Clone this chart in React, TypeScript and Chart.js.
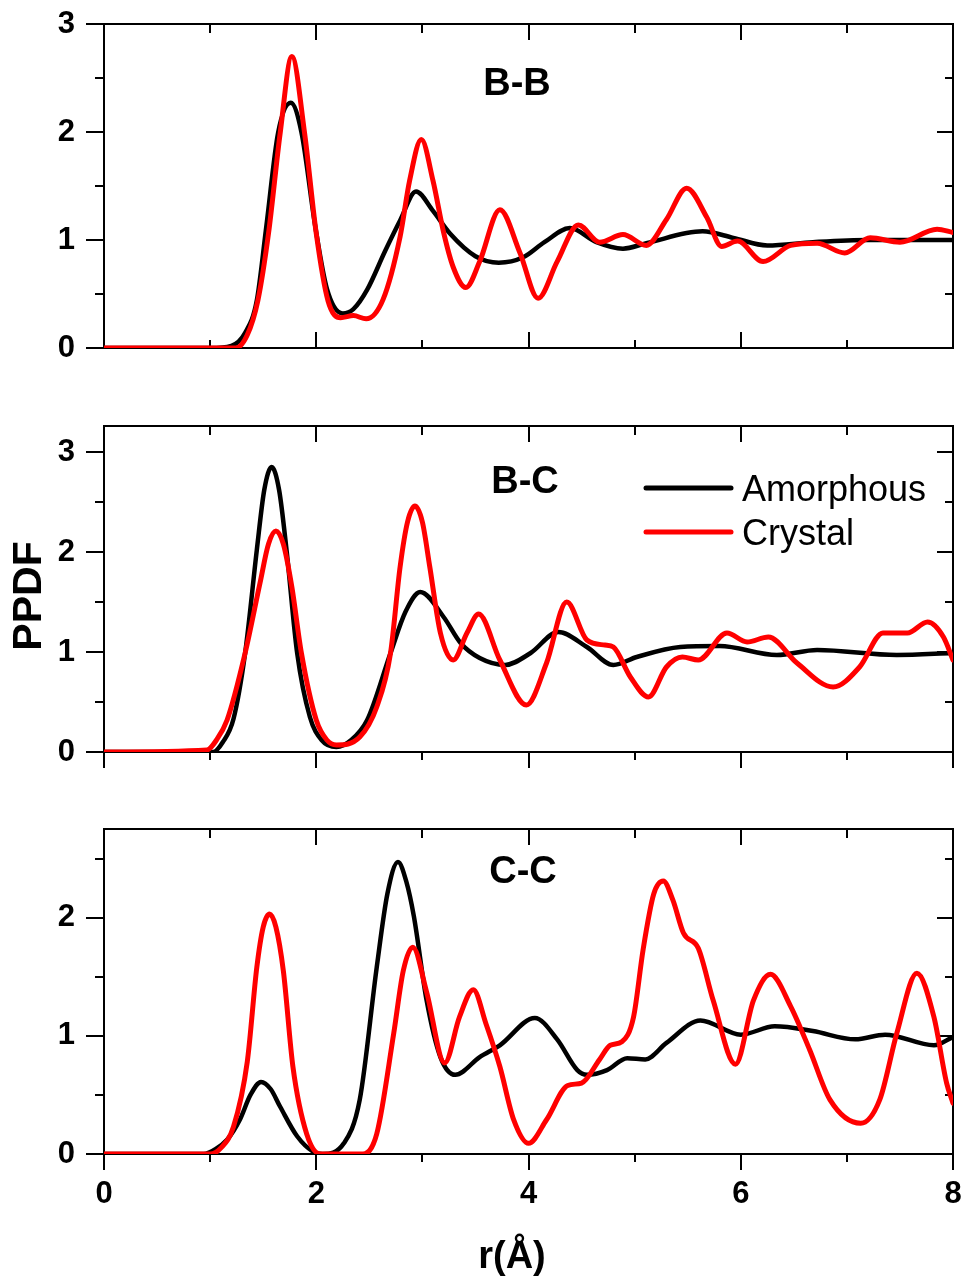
import React, { useEffect, useRef } from "react";
import { Chart, registerables } from "chart.js";

Chart.register(...registerables);

const FONT = "'Liberation Sans', Arial, Helvetica, sans-serif";

// ---------- shared axis ----------
const X_MIN = 0;
const X_MAX = 8;
const X_TICKS = [0, 2, 4, 6, 8];
const X_TITLE = "r(Å)";
const Y_TITLE = "PPDF";
const SERIES_NAMES = ["Amorphous", "Crystal"];

// ---------- B-B ----------
const BB_Y_MAX = 3;
const BB_Y_TICKS = [0, 1, 2, 3];
const BB_AM_R = [0, 1.0, 1.2, 1.33, 1.44, 1.53, 1.64, 1.76, 1.86, 1.99, 2.1, 2.25, 2.35, 2.48, 2.65, 2.79, 2.94, 3.1, 3.26, 3.5, 3.72, 3.95, 4.15, 4.39, 4.64, 4.89, 5.11, 5.64, 5.93, 6.25, 6.68, 7.2, 8.0];
const BB_AM_G = [0, 0, 0.02, 0.14, 0.44, 1.13, 1.99, 2.27, 2.0, 1.13, 0.55, 0.32, 0.36, 0.54, 0.9, 1.18, 1.45, 1.27, 1.06, 0.85, 0.79, 0.84, 0.98, 1.11, 0.98, 0.92, 0.97, 1.08, 1.02, 0.95, 0.98, 1.0, 1.0];
const BB_CR_R = [0, 1.24, 1.35, 1.45, 1.55, 1.66, 1.77, 1.89, 2.0, 2.11, 2.23, 2.35, 2.47, 2.63, 2.79, 2.88, 2.99, 3.1, 3.2, 3.29, 3.41, 3.54, 3.73, 3.92, 4.09, 4.27, 4.47, 4.67, 4.89, 5.11, 5.3, 5.49, 5.68, 5.82, 5.97, 6.21, 6.47, 6.72, 6.98, 7.22, 7.5, 7.85, 8.0];
const BB_CR_G = [0, 0, 0.12, 0.44, 1.06, 1.99, 2.7, 1.99, 1.06, 0.44, 0.28, 0.3, 0.27, 0.45, 1.03, 1.55, 1.93, 1.55, 1.07, 0.75, 0.56, 0.8, 1.28, 0.88, 0.46, 0.8, 1.14, 0.98, 1.05, 0.95, 1.19, 1.48, 1.21, 0.94, 0.99, 0.8, 0.95, 0.97, 0.88, 1.02, 0.98, 1.1, 1.07];

// ---------- B-C ----------
const BC_Y_MAX = 3.26;
const BC_Y_TICKS = [0, 1, 2, 3];
const BC_AM_R = [0, 1.03, 1.12, 1.22, 1.33, 1.44, 1.51, 1.58, 1.65, 1.72, 1.82, 1.94, 2.05, 2.19, 2.33, 2.48, 2.7, 2.84, 2.98, 3.2, 3.36, 3.54, 3.78, 4.02, 4.28, 4.55, 4.8, 5.02, 5.43, 5.8, 6.34, 6.72, 7.47, 8.0];
const BC_AM_G = [0, 0, 0.1, 0.33, 0.99, 2.02, 2.62, 2.85, 2.62, 2.02, 0.99, 0.35, 0.12, 0.05, 0.12, 0.32, 0.99, 1.4, 1.6, 1.35, 1.09, 0.94, 0.87, 0.99, 1.2, 1.05, 0.87, 0.95, 1.05, 1.06, 0.97, 1.02, 0.97, 0.99];
const BC_CR_R = [0, 0.97, 1.06, 1.16, 1.33, 1.47, 1.55, 1.62, 1.69, 1.77, 1.86, 2.0, 2.1, 2.19, 2.41, 2.57, 2.7, 2.79, 2.86, 2.93, 3.0, 3.07, 3.17, 3.29, 3.42, 3.53, 3.73, 3.98, 4.17, 4.36, 4.55, 4.72, 4.8, 4.96, 5.13, 5.3, 5.45, 5.6, 5.87, 6.06, 6.26, 6.53, 6.87, 7.12, 7.34, 7.57, 7.76, 7.91, 8.0];
const BC_CR_G = [0, 0.02, 0.12, 0.32, 0.99, 1.69, 2.08, 2.21, 2.08, 1.65, 0.99, 0.32, 0.12, 0.07, 0.15, 0.45, 0.99, 1.85, 2.3, 2.46, 2.3, 1.85, 1.19, 0.92, 1.19, 1.38, 0.92, 0.47, 0.89, 1.5, 1.12, 1.07, 1.05, 0.75, 0.55, 0.85, 0.95, 0.92, 1.19, 1.1, 1.15, 0.89, 0.65, 0.85, 1.19, 1.19, 1.3, 1.15, 0.92];

// ---------- C-C ----------
const CC_Y_MAX = 2.75;
const CC_Y_TICKS = [0, 1, 2];
const CC_AM_R = [0, 0.94, 1.05, 1.16, 1.28, 1.38, 1.48, 1.57, 1.66, 1.82, 1.97, 2.06, 2.26, 2.41, 2.57, 2.67, 2.77, 2.85, 2.92, 3.04, 3.17, 3.31, 3.54, 3.73, 4.06, 4.27, 4.46, 4.55, 4.74, 4.93, 5.1, 5.3, 5.62, 6.0, 6.32, 6.68, 7.08, 7.36, 7.82, 8.0];
const CC_AM_G = [0, 0, 0.04, 0.12, 0.29, 0.5, 0.61, 0.55, 0.4, 0.15, 0.02, 0.0, 0.09, 0.46, 1.58, 2.2, 2.47, 2.3, 2.01, 1.3, 0.82, 0.67, 0.82, 0.92, 1.15, 0.97, 0.71, 0.67, 0.71, 0.81, 0.8, 0.94, 1.13, 1.01, 1.08, 1.04, 0.97, 1.01, 0.92, 0.99];
const CC_CR_R = [0, 1.0, 1.1, 1.22, 1.35, 1.44, 1.5, 1.56, 1.62, 1.69, 1.78, 1.91, 2.04, 2.44, 2.57, 2.73, 2.82, 2.91, 3.04, 3.21, 3.35, 3.48, 3.6, 3.73, 3.86, 4.0, 4.17, 4.37, 4.5, 4.67, 4.77, 4.88, 4.99, 5.08, 5.18, 5.27, 5.36, 5.46, 5.6, 5.74, 5.95, 6.12, 6.28, 6.47, 6.65, 6.84, 7.13, 7.31, 7.47, 7.66, 7.82, 7.94, 8.0];
const CC_CR_G = [0, 0, 0.05, 0.23, 0.78, 1.58, 1.92, 2.03, 1.92, 1.55, 0.74, 0.17, 0.0, 0.0, 0.17, 1.02, 1.55, 1.75, 1.37, 0.77, 1.16, 1.39, 1.1, 0.74, 0.29, 0.09, 0.29, 0.58, 0.6, 0.8, 0.92, 0.95, 1.16, 1.73, 2.2, 2.31, 2.15, 1.87, 1.74, 1.3, 0.76, 1.3, 1.52, 1.25, 0.88, 0.46, 0.26, 0.46, 1.02, 1.53, 1.16, 0.6, 0.43];

type Panel = {
  name: string;
  yMax: number;
  yTicks: number[];
  amR: number[];
  amG: number[];
  crR: number[];
  crG: number[];
  top: number;
  height: number;
  padTop: number;
  padBottom: number;
  showX: boolean;
  bottomIn: boolean;
  nameX: number;
  nameY: number;
  legend: boolean;
  yTitle: boolean;
  xTitle: boolean;
};

const PANELS: Panel[] = [
  { name: "B-B", yMax: BB_Y_MAX, yTicks: BB_Y_TICKS, amR: BB_AM_R, amG: BB_AM_G, crR: BB_CR_R, crG: BB_CR_G,
    top: 0, height: 370, padTop: 24, padBottom: 22, showX: false, bottomIn: true, nameX: 517, nameY: 95, legend: false, yTitle: false, xTitle: false },
  { name: "B-C", yMax: BC_Y_MAX, yTicks: BC_Y_TICKS, amR: BC_AM_R, amG: BC_AM_G, crR: BC_CR_R, crG: BC_CR_G,
    top: 380, height: 400, padTop: 46, padBottom: 28, showX: false, bottomIn: false, nameX: 525, nameY: 113, legend: true, yTitle: true, xTitle: false },
  { name: "C-C", yMax: CC_Y_MAX, yTicks: CC_Y_TICKS, amR: CC_AM_R, amG: CC_AM_G, crR: CC_CR_R, crG: CC_CR_G,
    top: 790, height: 492, padTop: 39, padBottom: 0, showX: true, bottomIn: false, nameX: 523, nameY: 93, legend: false, yTitle: false, xTitle: true },
];

const zip = (r: number[], g: number[]) => r.map((x, i) => ({ x, y: g[i] }));

function framePlugin(p: Panel) {
  return {
    id: "frameTicks",
    beforeDatasetsDraw(chart: any) {
      const { ctx, chartArea: a, scales } = chart;
      const xs = scales.x;
      const ys = scales.y;
      ctx.save();
      ctx.strokeStyle = "#000";
      ctx.lineWidth = 2;
      ctx.strokeRect(a.left, a.top, a.right - a.left, a.bottom - a.top);
      ctx.beginPath();
      for (let k = 0; k * 0.5 <= p.yMax + 1e-9; k++) {
        const v = k * 0.5;
        const major = k % 2 === 0;
        const py = Math.round(ys.getPixelForValue(v));
        const L = major ? 18 : 9;
        const R = major ? 16 : 8;
        ctx.moveTo(a.left - L, py);
        ctx.lineTo(a.left, py);
        ctx.moveTo(a.right - R, py);
        ctx.lineTo(a.right, py);
      }
      for (let v = X_MIN; v <= X_MAX; v++) {
        const major = v % 2 === 0;
        const px = Math.round(xs.getPixelForValue(v));
        const T = major ? 16 : 9;
        const B = major ? 16 : 8;
        ctx.moveTo(px, a.top);
        ctx.lineTo(px, a.top + T);
        ctx.moveTo(px, a.bottom);
        ctx.lineTo(px, p.bottomIn ? a.bottom - B : a.bottom + B);
      }
      ctx.stroke();
      ctx.restore();
    },
    afterDraw(chart: any) {
      const { ctx } = chart;
      ctx.save();
      ctx.fillStyle = "#000";
      ctx.textAlign = "center";
      ctx.textBaseline = "alphabetic";
      ctx.font = `bold 38px ${FONT}`;
      ctx.fillText(p.name, p.nameX, p.nameY);
      if (p.legend) {
        const ds = chart.data.datasets;
        SERIES_NAMES.forEach((nm, i) => {
          const d = ds.find((q: any) => q.label === nm);
          const y = 108 + i * 44;
          ctx.strokeStyle = d.borderColor;
          ctx.lineWidth = 5;
          ctx.lineCap = "round";
          ctx.beginPath();
          ctx.moveTo(646, y);
          ctx.lineTo(731, y);
          ctx.stroke();
          ctx.fillStyle = "#000";
          ctx.textAlign = "left";
          ctx.font = `36px ${FONT}`;
          ctx.fillText(nm, 742, y + 12.5);
        });
      }
      if (p.yTitle) {
        ctx.save();
        ctx.translate(30, 216);
        ctx.rotate(-Math.PI / 2);
        ctx.textAlign = "center";
        ctx.textBaseline = "middle";
        ctx.font = `bold 41px ${FONT}`;
        ctx.fillStyle = "#000";
        ctx.fillText(Y_TITLE, 0, 0);
        ctx.restore();
      }
      if (p.xTitle) {
        ctx.textAlign = "center";
        ctx.textBaseline = "alphabetic";
        ctx.font = `bold 38px ${FONT}`;
        ctx.fillStyle = "#000";
        ctx.fillText(X_TITLE, 512, 478);
      }
      ctx.restore();
    },
  };
}

function buildConfig(p: Panel): any {
  const tickFont = { family: FONT, size: 31, weight: "bold" as const };
  const common = {
    pointRadius: 0,
    pointHoverRadius: 0,
    fill: false,
    cubicInterpolationMode: "monotone" as const,
    borderJoinStyle: "round" as const,
    borderCapStyle: "round" as const,
  };
  return {
    type: "line",
    data: {
      datasets: [
        { ...common, label: SERIES_NAMES[1], data: zip(p.crR, p.crG), borderColor: "#ff0000", borderWidth: 5, order: 0 },
        { ...common, label: SERIES_NAMES[0], data: zip(p.amR, p.amG), borderColor: "#000000", borderWidth: 4.5, order: 1 },
      ],
    },
    options: {
      responsive: false,
      maintainAspectRatio: false,
      animation: false,
      devicePixelRatio: 1,
      events: [],
      layout: { padding: { left: 0, right: 11, top: p.padTop, bottom: p.padBottom } },
      plugins: { legend: { display: false }, tooltip: { enabled: false }, title: { display: false } },
      scales: {
        x: {
          type: "linear",
          min: X_MIN,
          max: X_MAX,
          display: p.showX,
          position: "bottom",
          grid: { display: false, drawTicks: true, tickLength: 22 },
          border: { display: false },
          ticks: { font: tickFont, color: "#000", padding: 0, maxRotation: 0, autoSkip: false },
          afterBuildTicks: (s: any) => { s.ticks = X_TICKS.map((v) => ({ value: v })); },
          afterFit: (s: any) => { if (p.showX) s.height = 128; },
        },
        y: {
          type: "linear",
          min: 0,
          max: p.yMax,
          position: "left",
          grid: { display: false, drawTicks: true, tickLength: 29 },
          border: { display: false },
          ticks: { font: tickFont, color: "#000", padding: 0, autoSkip: false },
          afterBuildTicks: (s: any) => { s.ticks = p.yTicks.map((v) => ({ value: v })); },
          afterFit: (s: any) => { s.width = 104; },
        },
      },
    },
    plugins: [framePlugin(p)],
  };
}

export default function App() {
  const refs = useRef<(HTMLCanvasElement | null)[]>([]);
  useEffect(() => {
    const charts = PANELS.map((p, i) => new Chart(refs.current[i] as HTMLCanvasElement, buildConfig(p)));
    return () => charts.forEach((c) => c.destroy());
  }, []);
  return (
    <div style={{ position: "absolute", left: 0, top: 0, width: 964, height: 1282, background: "#fff" }}>
      {PANELS.map((p, i) => (
        <canvas
          key={p.name}
          ref={(el) => { refs.current[i] = el; }}
          width={964}
          height={p.height}
          style={{ position: "absolute", left: 0, top: p.top, width: 964, height: p.height }}
        />
      ))}
    </div>
  );
}
